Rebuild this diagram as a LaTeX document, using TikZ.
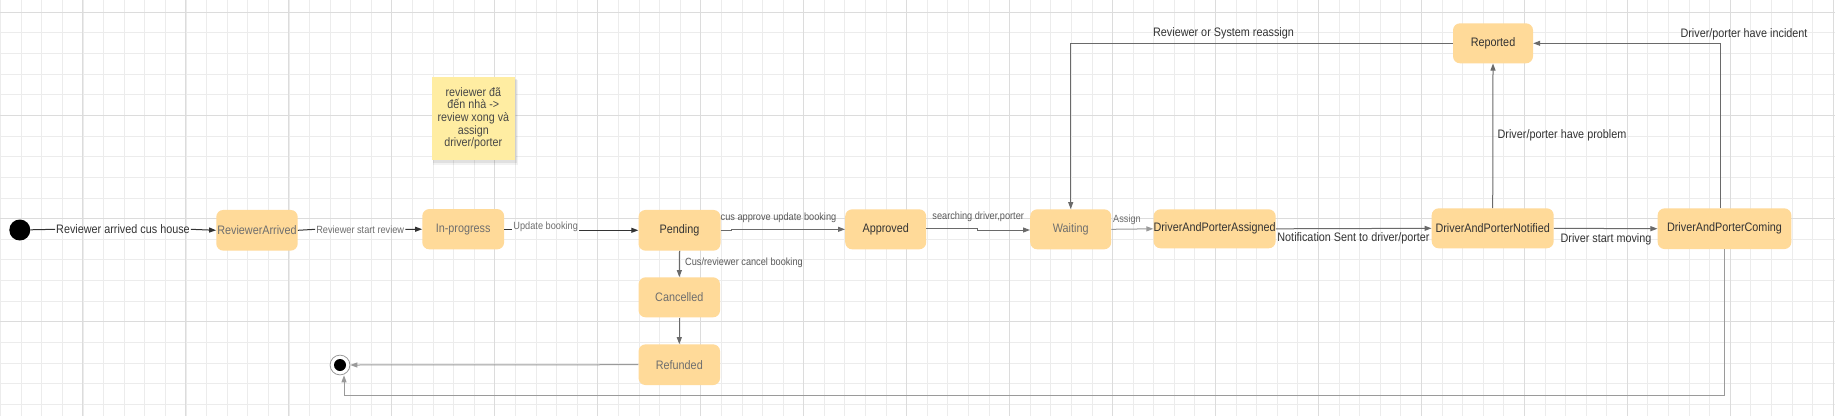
\documentclass[tikz,border=0pt]{standalone}
\usepackage{fontspec}
\setmainfont{Liberation Sans}[FakeStretch=0.88]
\usetikzlibrary{arrows.meta,calc}
\definecolor{stfill}{HTML}{FFDA99}
\definecolor{notefill}{HTML}{FFEDA2}
\definecolor{gridminor}{HTML}{ECECEC}
\definecolor{gridmajor}{HTML}{DCDCDC}
\definecolor{txtdark}{HTML}{333333}
\definecolor{txtgray}{HTML}{6E6E6E}
\definecolor{lndark}{HTML}{333333}
\definecolor{lnmid}{HTML}{6A6A6A}
\definecolor{lnlight}{HTML}{9A9A9A}
\tikzset{
  state/.style={rounded corners=7pt, fill=stfill, inner sep=0pt, text=txtdark,
    font=\fontsize{12.3}{14}\selectfont},
  graytext/.style={text=txtgray},
  biglabel/.style={inner sep=1pt, text=txtdark, font=\fontsize{12.3}{14}\selectfont},
  smalllabel/.style={inner sep=1pt, text=txtgray, font=\fontsize{10.45}{12}\selectfont},
  tip/.style={-{Triangle[length=7pt,width=5pt]}},
  edark/.style={draw=lndark, line width=1pt},
  emid/.style={draw=lnmid, line width=1pt},
  elight/.style={draw=lnlight, line width=1pt},
}
\begin{document}
\begin{tikzpicture}[x=1pt,y=-1pt]
\useasboundingbox (0,0) rectangle (1835,416);
\fill[white] (0,0) rectangle (1835,416);
% grid
\foreach \k in {0,...,89} {
  \pgfmathsetmacro\xx{0.7+20.59*\k}
  \draw[gridminor, line width=0.9pt] (\xx,0) -- (\xx,416);
}
\foreach \k in {0,...,20} {
  \pgfmathsetmacro\yy{12.3+20.63*\k}
  \draw[gridminor, line width=0.9pt] (0,\yy) -- (1835,\yy);
}
\foreach \k in {0,...,17} {
  \pgfmathsetmacro\xx{82.7+103*\k}
  \draw[gridmajor, line width=1pt] (\xx,0) -- (\xx,416);
}
\foreach \k in {0,...,3} {
  \pgfmathsetmacro\yy{12.3+103.15*\k}
  \draw[gridmajor, line width=1pt] (0,\yy) -- (1835,\yy);
}

% sticky note
\fill[black, opacity=0.05] (433,80) rectangle (518,165);
\fill[black, opacity=0.07] (432.5,79) rectangle (516.5,162.5);
\node[fill=notefill, minimum width=83.3pt, minimum height=83.3pt, inner sep=0pt,
      text=txtdark!90, align=center, font=\fontsize{12.2}{12.6}\selectfont]
  (note) at (473.3,118.3) {reviewer đã\\đến nhà ->\\review xong và\\assign\\driver/porter};

% states
\node[circle, fill=black, minimum size=21pt, inner sep=0pt] (init) at (19.8,230) {};
\node[circle, draw=lnlight, line width=0.8pt, fill=white, minimum size=19.8pt, inner sep=0pt] (fin) at (340,365) {};
\node[circle, fill=black, minimum size=12pt, inner sep=0pt] (fincore) at (fin.center) {};

\node[state, graytext, minimum width=81.4pt, minimum height=40.7pt] (RA) at (257,230.3) {ReviewerArrived};
\node[state, graytext, minimum width=81.8pt, minimum height=40.3pt] (IP) at (463.2,229.2) {In-progress};
\node[state, minimum width=82pt, minimum height=40.7pt] (PE) at (679.5,230.3) {Pending};
\node[state, minimum width=81pt, minimum height=40pt] (AP) at (885.7,229.3) {Approved};
\node[state, graytext, minimum width=81pt, minimum height=40pt] (WA) at (1070.7,229.3) {Waiting};
\node[state, minimum width=122pt, minimum height=39pt] (DA) at (1214.6,228.8) {DriverAndPorterAssigned};
\node[state, minimum width=122pt, minimum height=40pt] (DN) at (1492.7,228.3) {DriverAndPorterNotified};
\node[state, minimum width=133.7pt, minimum height=40.7pt] (DC) at (1724.5,228.7) {DriverAndPorterComing};
\node[state, minimum width=80pt, minimum height=40pt] (RE) at (1493,43.3) {Reported};
\node[state, graytext, minimum width=81.5pt, minimum height=40pt] (CA) at (679.3,297.3) {Cancelled};
\node[state, graytext, minimum width=81.5pt, minimum height=40.7pt] (RF) at (679.3,364.7) {Refunded};

% labels
\node[biglabel] (L1) at (123,229.3) {Reviewer arrived cus house};
\node[smalllabel] (L2) at (360.2,229.3) {Reviewer start review};
\node[smalllabel] (L3) at (545.7,227) {Update booking};
\node[smalllabel, text=txtgray!80!black] (L4) at (778.5,217.7) {cus approve update booking};
\node[smalllabel, text=txtgray!80!black] (L5) at (978.2,217) {searching driver,porter};
\node[smalllabel] (L6) at (1127,220) {Assign};
\node[biglabel] (L7) at (1353.5,238.7) {Notification Sent to driver/porter};
\node[biglabel] (L8) at (1606,239.3) {Driver start moving};
\node[biglabel] (L9) at (1562,135) {Driver/porter have problem};
\node[biglabel] (L10) at (1744,34.7) {Driver/porter have incident};
\node[biglabel] (L11) at (1223.5,33.7) {Reviewer or System reassign};
\node[smalllabel, text=txtgray!80!black] (L12) at (744,262.7) {Cus/reviewer cancel booking};

% connectors
\draw[edark] (init) -- (L1.west);
\draw[edark, tip] (L1.east) -- (RA.west);
\draw[edark] (RA.east) -- (L2.west);
\draw[edark, tip] (L2.east) -- (IP.west);
\draw[edark] (IP.east) -- (IP.east -| L3.west);
\draw[edark, tip] (L3.east |- PE.west) -- (PE.west);
\draw[emid, tip] (PE.east) -- ++(11,0) |- (AP.west);
\draw[emid, tip] ([yshift=1pt]AP.east) -- ++(51.4,0) |- ([yshift=-0.7pt]WA.west);
\draw[elight, tip] (WA.east) -- (DA.west);
\draw[emid, tip] (DA.east) -- (DN.west);
\draw[emid, tip] (DN.east) -- (DC.west);
\draw[emid, tip] (DN.north) -- (RE.south);
\draw[emid, tip] ([xshift=-4.3pt]DC.north) |- (RE.east);
\draw[emid, tip] (RE.west) -| (WA.north);
\draw[emid, tip] (PE.south) -- (CA.north);
\draw[emid, tip] (CA.south) -- (RF.north);
\draw[elight, tip] (RF.west) -- (fin.east);
\draw[elight, tip] (DC.south) -- ++(0,146) -| ([xshift=4pt]fin.south);
\end{tikzpicture}
\end{document}
